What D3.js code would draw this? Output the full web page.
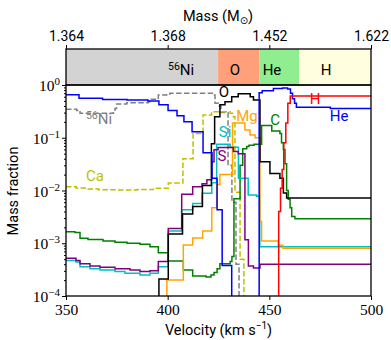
<!DOCTYPE html>
<html>
<head>
<meta charset="utf-8">
<script src="https://cdn.jsdelivr.net/npm/d3@7"></script>
<style>
  body { margin: 0; background: #fff; }
  text { fill: #000; }
</style>
</head>
<body>
<svg id="chart" width="391" height="340"></svg>
<script>
// Composition shells along the velocity axis (km/s)
const shellEdges  = [350, 424.8, 445, 464.6, 500];
const shellNames  = ["Ni", "O", "He", "H"];
const shellColors = ["#d3d3d3", "#ffa07a", "#90ee90", "#ffffe0"];
const shellLabelV = [406.6, 433.1, 451.3, 477.9];

// Axis ticks
const velocityTicks   = [350, 400, 450, 500];
const massTickLabels  = ["1.364", "1.368", "1.452", "1.622"];
const fractionExps    = [0, -1, -2, -3, -4];

// Step profiles: [velocity (km/s), mass fraction]
const helium = [[350,0.65],[356.4,0.56],[368,0.53],[380,0.52],[390.3,0.50],[395.7,0.42],[400.2,0.33],
  [404.6,0.26],[408,0.20],[412,0.13],[417.4,0.052],[421.8,0.017],[424.3,0.0043],[426.8,0.00038],
  [431.5,1e-6],[445,0.71],[446.5,0.78],[452,0.86],[456.5,0.88],[459,0.84],[460.4,0.70],
  [461.4,0.55],[462.4,0.45],[463.3,0.38],[480,0.36],[500,0.36]];
const hydrogen = [[454,1e-6],[454.6,0.004],[455.5,0.011],[456.3,0.025],[457.1,0.08],[458.1,0.19],
  [459.1,0.45],[460.3,0.62],[500,0.62]];
const oxygen = [[395,1e-6],[395.7,0.00021],[400.3,0.0015],[407.3,0.0036],[412.3,0.005],[417.1,0.0125],
  [421.5,0.077],[423.1,0.25],[425.7,0.42],[428.2,0.48],[431.5,0.60],[434.7,0.68],[440.6,0.60],
  [442.2,0.52],[445.4,0.035],[450.3,0.021],[455.2,0.017],[456.9,0.009],[458.5,0.0072],[500,0.0072]];
const carbon = [[350,0.00165],[354.4,0.0016],[356.9,0.00125],[360.8,0.00118],[368.2,0.0011],
  [374.1,0.00105],[380,0.0010],[386.4,0.00096],[391.3,0.00086],[395.4,0.00066],[400.3,0.00046],
  [407.7,0.00031],[412.3,0.00024],[418.9,0.00023],[421.3,0.00025],[422.8,0.00028],[424.3,0.00033],
  [425.7,0.00041],[430.7,0.00045],[431.6,0.00056],[432.6,0.007],[435.6,0.030],[436.9,0.062],
  [438.9,0.068],[440,0.072],[442.5,0.075],[446.2,0.17],[451.2,0.135],[455.2,0.12],[456,0.08],
  [456.9,0.06],[457.7,0.032],[458.5,0.010],[459.3,0.0068],[460.2,0.0047],[461,0.0032],
  [462.6,0.0029],[500,0.0029]];
const silicon = [[350,0.00047],[354.9,0.00044],[356.9,0.00036],[361.8,0.00033],[366.7,0.00031],
  [374.1,0.00029],[379,0.00027],[386.4,0.00025],[391.3,0.00027],[395.4,0.00036],[400.3,0.0017],
  [406.9,0.0043],[412.3,0.0057],[416.9,0.0089],[421.7,0.014],[424.1,0.075],[430.7,0.066],
  [434.8,0.017],[439.6,0.0082],[443.8,0.0078],[445.3,0.00086],[500,0.00086]];
const magnesium = [[399,1e-6],[399.6,0.0002],[407.7,0.00093],[412.3,0.00126],[417.2,0.0017],
  [421.7,0.0047],[424.1,0.013],[425.7,0.02],[431.9,0.19],[438,0.14],[440.5,0.113],[443,0.10],
  [445.4,0.0026],[446.2,0.0011],[454.4,0.00092],[456.7,0.0008],[500,0.0008]];
const sulfur = [[350,0.00052],[354.9,0.00047],[356.9,0.00041],[361.8,0.00037],[366.7,0.00035],
  [374.1,0.00033],[381.5,0.00031],[386.4,0.00029],[391.3,0.00030],[395.4,0.00045],[400.3,0.0019],
  [406.9,0.0085],[412.3,0.0118],[416.9,0.0135],[419.3,0.016],[421.7,0.035],[422.8,0.059],
  [424.8,0.065],[432.3,0.055],[434.7,0.050],[438,0.00117],[439.7,0.00037],[442.2,0.00034],
  [445.4,0.00040],[500,0.00041]];
const nickel56 = [[350,0.346],[355.3,0.33],[356.9,0.29],[366.7,0.29],[373.3,0.31],[374.1,0.36],
  [374.9,0.436],[379.9,0.46],[390.5,0.48],[391.3,0.535],[395.4,0.646],[399.5,0.675],[401.1,0.70],
  [419.2,0.70],[422.4,0.646],[423.3,0.45],[424.9,0.40],[426.2,0.30],[429.7,0.030],[431.6,0.006],
  [433.6,0.0004],[435.1,1e-6],[440,1e-6]];
const calcium = [[350,0.0118],[355,0.0112],[360,0.0107],[366,0.0103],[375,0.0102],[385,0.0104],
  [393,0.0110],[400.3,0.0138],[407.5,0.040],[412.5,0.12],[417.4,0.27],[421.6,0.31],[430.7,0.29],
  [432.3,0.25],[433.1,0.0093],[435.6,0.0005],[437.5,1e-6],[440,1e-6]];

const series = [
  { data: nickel56,  color: "#808080", dash: "5.5,2.4" },
  { data: calcium,   color: "#bfbf00", dash: "5.5,2.4" },
  { data: carbon,    color: "#008000" },
  { data: silicon,   color: "#00bfbf" },
  { data: magnesium, color: "#ffa500" },
  { data: sulfur,    color: "#800080" },
  { data: oxygen,    color: "#000000" },
  { data: helium,    color: "#0000ff" },
  { data: hydrogen,  color: "#ff0000" }
];

// Inline species labels: [text, velocity, fraction, color]
const speciesLabels = [
  ["O",  427.7, 0.74,  "#000000"],
  ["Si", 428.2, 0.128, "#00bfbf"],
  ["S",  426.7, 0.045, "#800080"],
  ["Mg", 439.0, 0.26,  "#ffa500"],
  ["C",  452.8, 0.217, "#008000"],
  ["H",  472.5, 0.54,  "#ff0000"],
  ["He", 484.3, 0.26,  "#0000ff"],
  ["Ca", 364.3, 0.0188,"#bfbf00"]
];

const sans = "Roboto, 'DejaVu Sans', sans-serif";
const serif = "'Liberation Serif', 'DejaVu Serif', serif";

const svg = d3.select("#chart");
const x = d3.scaleLinear().domain([350, 500]).range([66, 371]);
const y = d3.scaleLog().domain([1e-4, 1]).range([296, 85]);
const bandTop = 49, bandBottom = 85;

// ---- shell band above the plot ----
svg.selectAll("rect.shell").data(shellNames).join("rect")
  .attr("class", "shell")
  .attr("x", (d, i) => x(shellEdges[i]))
  .attr("width", (d, i) => x(shellEdges[i + 1]) - x(shellEdges[i]))
  .attr("y", bandTop).attr("height", bandBottom - bandTop)
  .attr("fill", (d, i) => shellColors[i]);

const bandLabels = svg.selectAll("text.shell").data(shellNames).join("text")
  .attr("class", "shell")
  .attr("x", (d, i) => x(shellLabelV[i]))
  .attr("y", 75)
  .attr("text-anchor", "middle")
  .style("font-family", sans).style("font-size", "15px");
bandLabels.each(function (d) {
  const t = d3.select(this);
  if (d === "Ni") {
    t.append("tspan").attr("font-size", "10.5px").attr("dy", "-5").text("56");
    t.append("tspan").attr("dy", "5").text("Ni");
  } else {
    t.text(d);
  }
});

svg.append("rect")
  .attr("x", x(350)).attr("y", bandTop)
  .attr("width", x(500) - x(350)).attr("height", bandBottom - bandTop)
  .attr("fill", "none").attr("stroke", "#000").attr("stroke-width", 1.3);

// top mass axis
const topAxis = svg.append("g").attr("transform", `translate(0,${bandTop})`)
  .call(d3.axisTop(x).tickValues(velocityTicks)
    .tickFormat((d, i) => massTickLabels[i]).tickSize(4).tickPadding(4));
topAxis.select(".domain").remove();
topAxis.selectAll("text").style("font-family", sans).style("font-size", "14px");

svg.append("text")
  .attr("x", 218).attr("y", 21).attr("text-anchor", "middle")
  .style("font-family", sans).style("font-size", "14.5px")
  .call(t => {
    t.append("tspan").text("Mass (M");
    t.append("tspan").attr("font-size", "10px").attr("dy", "3")
      .style("font-family", "'DejaVu Sans', sans-serif").text("\u2299");
    t.append("tspan").attr("dy", "-3").text(")");
  });

// ---- main panel ----
svg.append("clipPath").attr("id", "plotClip")
  .append("rect").attr("x", 66).attr("y", 85).attr("width", 305).attr("height", 211);

const line = d3.line()
  .x(d => x(d[0]))
  .y(d => y(d[1]))
  .curve(d3.curveStepAfter);

svg.append("g").attr("clip-path", "url(#plotClip)")
  .selectAll("path").data(series).join("path")
  .attr("d", d => line(d.data))
  .attr("fill", "none")
  .attr("stroke", d => d.color)
  .attr("stroke-width", 1.5)
  .attr("stroke-dasharray", d => d.dash || null);

svg.selectAll("text.species").data(speciesLabels).join("text")
  .attr("class", "species")
  .attr("x", d => x(d[1])).attr("y", d => y(d[2]))
  .attr("dy", "0.35em").attr("text-anchor", "middle")
  .style("font-family", sans).style("font-size", "15px")
  .style("fill", d => d[3])
  .text(d => d[0]);

// 56Ni label
svg.append("text")
  .attr("x", x(359.8)).attr("y", y(0.18)).attr("dy", "0.35em")
  .style("font-family", sans).style("font-size", "15px").style("fill", "#808080")
  .call(t => {
    t.append("tspan").attr("font-size", "10.5px").attr("dy", "-5").text("56");
    t.append("tspan").attr("dy", "5").text("Ni");
  });

// bottom velocity axis
const bottomAxis = svg.append("g").attr("transform", "translate(0,296)")
  .call(d3.axisBottom(x).tickValues(velocityTicks).tickFormat(d3.format("d"))
    .tickSize(4).tickPadding(4));
bottomAxis.select(".domain").remove();
bottomAxis.selectAll("text").style("font-family", serif).style("font-size", "15.5px");

svg.append("text")
  .attr("x", 218.5).attr("y", 335).attr("text-anchor", "middle")
  .style("font-family", sans).style("font-size", "14.5px")
  .call(t => {
    t.append("tspan").text("Velocity (km s");
    t.append("tspan").attr("font-size", "10px").attr("dy", "-6").text("\u22121");
    t.append("tspan").attr("dy", "6").text(")");
  });

// left log axis: minor then major ticks
const minorVals = [];
for (let e = -4; e < 0; e++) for (let k = 2; k <= 9; k++) minorVals.push(k * Math.pow(10, e));
const minorAxis = svg.append("g").attr("transform", "translate(66,0)")
  .call(d3.axisLeft(y).tickValues(minorVals).tickFormat("").tickSize(2));
minorAxis.select(".domain").remove();

const leftAxis = svg.append("g").attr("transform", "translate(66,0)")
  .call(d3.axisLeft(y).tickValues(fractionExps.map(e => Math.pow(10, e)))
    .tickSize(4).tickPadding(3).tickFormat(""));
leftAxis.select(".domain").remove();
leftAxis.selectAll(".tick").append("text")
  .attr("x", -6).attr("dy", "0.36em").attr("text-anchor", "end")
  .style("font-family", serif).style("font-size", "15.5px").attr("fill", "#000")
  .each(function (d) {
    const e = Math.round(Math.log10(d));
    const t = d3.select(this);
    t.append("tspan").text("10");
    t.append("tspan").attr("font-size", "11px").attr("dy", "-6")
      .text(e === 0 ? "0" : "\u2212" + Math.abs(e));
  });

svg.append("text")
  .attr("transform", "translate(18,191) rotate(-90)")
  .attr("text-anchor", "middle")
  .style("font-family", sans).style("font-size", "14.5px")
  .text("Mass fraction");

// frame
svg.append("rect")
  .attr("x", 66).attr("y", 85).attr("width", 305).attr("height", 211)
  .attr("fill", "none").attr("stroke", "#000").attr("stroke-width", 1.3);
</script>
</body>
</html>
